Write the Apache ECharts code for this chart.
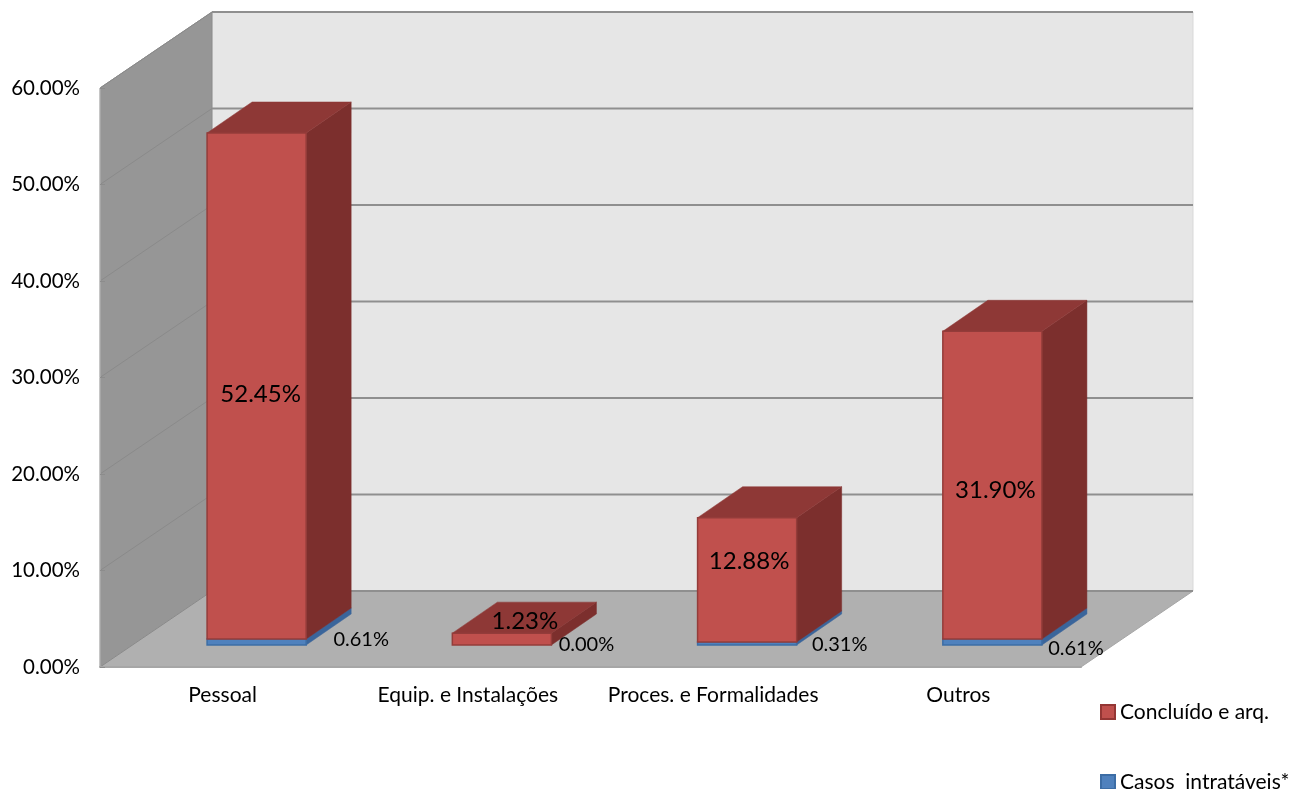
<!DOCTYPE html>
<html><head><meta charset="utf-8">
<style>html,body{margin:0;padding:0;background:#fff}#c{width:1293px;height:789px}</style>
<script src="https://cdn.jsdelivr.net/npm/echarts@6/dist/echarts.min.js"></script>
</head><body><div id="c"></div>
<script>
const categories = ['Pessoal', 'Equip. e Instalações', 'Proces. e Formalidades', 'Outros'];
const casosIntrataveis = [0.61, 0.00, 0.31, 0.61];
const concluidoArq = [52.45, 1.23, 12.88, 31.90];
const yTicks = [0, 10, 20, 30, 40, 50, 60];
const seriesNames = ['Concluído e arq.', 'Casos  intratáveis*'];

// Drawing constants of the pseudo-3D projection (pixels)
const WALL = [112, -76], FRONT = [34, -22], DEPTH = [45, -31];
const FONT = 'Lato, "Open Sans", sans-serif';
const redNudge = [[4, 8], [23, -18], [2, -19], [3, 5]];
const blueNudge = [[55, -5], [35, 0], [43, 0], [34, 4]];

const add = (p, d) => [p[0] + d[0], p[1] + d[1]];
function poly(points, fill, stroke, lw) {
  return { type: 'polygon', shape: { points }, style: { fill, stroke: stroke || fill, lineWidth: lw === undefined ? 1 : lw } };
}
function frame(api) {
  const bw = api.size([1, 0])[0];
  return {
    x0: api.coord([0, 0])[0] - bw / 2,
    x1: api.coord([categories.length - 1, 0])[0] + bw / 2,
    y0: api.coord([0, 0])[1],
    yM: api.coord([0, yTicks[yTicks.length - 1]])[1]
  };
}
function renderWalls(params, api) {
  const f = frame(api);
  const bl = [f.x0, f.y0], tl = [f.x0, f.yM], br = [f.x1, f.y0];
  const bbl = add(bl, WALL), btl = add(tl, WALL), bbr = add(br, WALL), btr = [bbr[0], btl[1]];
  return { type: 'group', children: [
    poly([btl, btr, bbr, bbl], '#e6e6e6', '#d9d9d9'),
    poly([tl, btl, bbl, bl], '#969696', '#8c8c8c'),
    poly([bl, br, bbr, bbl], '#b0b0b0', '#a6a6a6')
  ] };
}
function renderGrid(params, api) {
  const f = frame(api);
  const y = api.coord([0, api.value(1)])[1];
  const a = [f.x0, y], b = add(a, WALL), c = add([f.x1, y], WALL);
  return { type: 'group', children: [
    { type: 'line', shape: { x1: a[0], y1: a[1], x2: b[0], y2: b[1] }, style: { stroke: '#8a8a8a', lineWidth: 1 } },
    { type: 'line', shape: { x1: b[0], y1: b[1], x2: c[0], y2: c[1] }, style: { stroke: '#8f8f8f', lineWidth: 2 } }
  ] };
}
function barRenderer(fFront, fTop, fSide, edge, nudge, labelSize, fromCenter) {
  return function (params, api) {
    const i = api.value(0), lo = api.value(1), hi = api.value(2);
    const w = api.size([1, 0])[0] * 0.404;
    const cx = api.coord([i, 0])[0] + FRONT[0];
    const yLo = api.coord([i, lo])[1] + FRONT[1], yHi = api.coord([i, hi])[1] + FRONT[1];
    const l = cx - w / 2, r = cx + w / 2;
    const children = [];
    if (hi > lo) {
      const fl = [l, yHi], fr = [r, yHi], br = [r, yLo], bl = [l, yLo];
      children.push(poly([add(fr, DEPTH), add(br, DEPTH), br, fr], fSide, fSide, 0.5));
      children.push(poly([fl, fr, add(fr, DEPTH), add(fl, DEPTH)], fTop, fTop, 0.5));
      children.push(poly([fl, fr, br, bl], fFront, edge, 1.5));
    }
    const n = nudge[i];
    children.push({ type: 'text', z2: 100, style: {
      x: (fromCenter ? cx : r) + n[0],
      y: (fromCenter ? (yLo + yHi) / 2 : yLo) + n[1],
      text: (hi - lo).toFixed(2) + '%', fill: '#000', font: labelSize + 'px ' + FONT,
      align: 'center', verticalAlign: 'middle' } });
    return { type: 'group', children };
  };
}
const rows = (vals, bases) => vals.map((v, i) => [i, bases ? bases[i] : 0, (bases ? bases[i] : 0) + v]);

const chart = echarts.init(document.getElementById('c'));
chart.setOption({
  animation: false,
  backgroundColor: '#fff',
  grid: { left: 100, right: 212, top: 88, bottom: 122 },
  xAxis: { type: 'category', data: categories, z: 5,
    axisLine: { lineStyle: { color: '#a6a6a6', width: 2 } },
    axisTick: { inside: true, length: 8, lineStyle: { color: '#8c8c8c' } },
    axisLabel: { color: '#000', fontSize: 21, fontFamily: FONT, margin: 18, interval: 0 } },
  yAxis: { type: 'value', min: 0, max: 60, interval: 10, z: 5,
    splitLine: { show: false },
    axisLine: { show: true, lineStyle: { color: '#a6a6a6', width: 1 } },
    axisTick: { show: true, inside: true, length: 5, lineStyle: { color: '#8c8c8c' } },
    axisLabel: { color: '#000', fontSize: 20.5, fontFamily: FONT, margin: 20, padding: [2, 0, 0, 0], formatter: v => v.toFixed(2) + '%' } },
  legend: { left: 1095, top: 696, height: 200, orient: 'vertical', itemGap: 48, itemWidth: 14, itemHeight: 14, icon: 'rect',
    selectedMode: false, data: seriesNames,
    textStyle: { color: '#000', fontSize: 21, fontFamily: FONT, lineHeight: 22 } },
  series: [
    { type: 'custom', silent: true, renderItem: renderWalls, data: [[0, 0]], encode: { x: 0, y: 1 } },
    { type: 'custom', silent: true, renderItem: renderGrid, data: yTicks.map(t => [0, t]), encode: { x: 0, y: 1 } },
    { type: 'custom', name: seriesNames[1], silent: true, itemStyle: { color: '#4f81bd', borderColor: '#3c6da5', borderWidth: 1 },
      renderItem: barRenderer('#4f81bd', '#3c6da5', '#3a659b', '#3c6da5', blueNudge, 20, false),
      data: rows(casosIntrataveis), encode: { x: 0, y: 2 } },
    { type: 'custom', name: seriesNames[0], silent: true, itemStyle: { color: '#c0504d', borderColor: '#943634', borderWidth: 1 },
      renderItem: barRenderer('#c0504d', '#8e3836', '#7c2f2d', '#943c3a', redNudge, 24, true),
      data: rows(concluidoArq, casosIntrataveis), encode: { x: 0, y: 2 } }
  ]
});
</script></body></html>
